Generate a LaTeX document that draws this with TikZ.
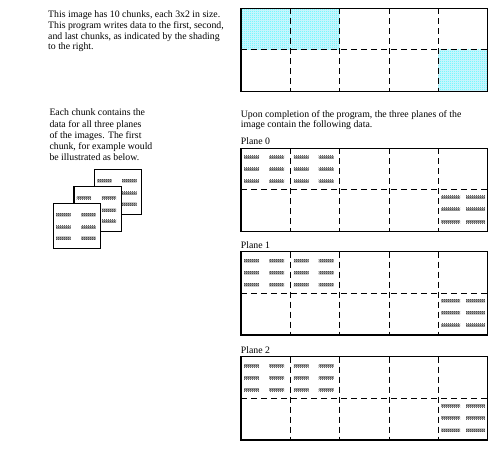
\documentclass[tikz,border=0pt]{standalone}
\usepackage{fontspec}
\setmainfont{Liberation Serif}
\usetikzlibrary{patterns}
\pgfdeclarepatternformonly{finecheck}{\pgfpointorigin}{\pgfqpoint{2pt}{2pt}}{\pgfqpoint{2pt}{2pt}}{%
  \pgfpathrectangle{\pgfpointorigin}{\pgfqpoint{1pt}{1pt}}%
  \pgfpathrectangle{\pgfqpoint{1pt}{1pt}}{\pgfqpoint{1pt}{1pt}}%
  \pgfusepath{fill}}
\tikzset{
  outerbox/.style={line width=1.2pt},
  griddash/.style={line width=0.9pt, dash pattern=on 6pt off 4pt},
  databar/.style={fill=black!30, postaction={pattern=finecheck, pattern color=black!85}},
  cyanshade/.style={fill=cyan!15, postaction={pattern=finecheck, pattern color=cyan!75}},
  platebox/.style={draw, fill=white, line width=1.1pt},
  txt/.style={anchor=base west, inner sep=0pt, font=\fontsize{9.8}{11}\selectfont},
}
\newcommand\chunkgrid[1]{%
  \draw[griddash] (241,#1+41.6) -- (487.7,#1+41.6);
  \foreach \gx in {290.3,339.7,389,438.3}{\draw[griddash] (\gx,#1) -- (\gx,#1+83.3);}
  \draw[outerbox] (241,#1) rectangle (487.7,#1+83.3);}
\newcommand\sixbars[4]{% x, y, bar width, first row offset
  \foreach \dy in {0,12,24}{
    \fill[databar] (#1+3,#2+#4+\dy) rectangle ++(#3,3);
    \fill[databar] (#1+28,#2+#4+\dy) rectangle ++(#3,3);}}
\newcommand\plate[2]{%
  \draw[platebox] (#1,#2) rectangle ++(47.5,45);
  \foreach \dy in {10.2,22.5,33.5}{
    \fill[databar] (#1+2.7,#2+\dy) rectangle ++(14.5,3);
    \fill[databar] (#1+27.7,#2+\dy) rectangle ++(14.5,3);}}
\begin{document}
\begin{tikzpicture}[x=1pt,y=-1pt]
\useasboundingbox (0,0) rectangle (503,454);
% top text
\node[txt] (t1a) at (48,17.7) {This image has 10 chunks, each 3x2 in size.};
\node[txt] (t1b) at (48,28.5) {This program writes data to the first, second,};
\node[txt] (t1c) at (48,39.3) {and last chunks, as indicated by the shading};
\node[txt] (t1d) at (48,50) {to the right.};
% top grid with shading
\fill[cyanshade] (241,8.3) rectangle (339.7,49.9);
\fill[cyanshade] (438.3,49.9) rectangle (487.7,91.6);
\chunkgrid{8.3}
% left text
\node[txt] (t2a) at (49.3,116) {Each chunk contains the};
\node[txt] (t2b) at (49.3,127.3) {data for all three planes};
\node[txt] (t2c) at (49.3,138.3) {of the images. The first};
\node[txt] (t2d) at (49.3,149.3) {chunk, for example would};
\node[txt] (t2e) at (49.3,160.3) {be illustrated as below.};
% plates
\plate{94.3}{169.3}
\plate{74}{186.3}
\plate{53.3}{203.3}
% right text
\node[txt] (t3a) at (240.7,117.3) {Upon completion of the program, the three planes of the};
\node[txt] (t3b) at (240.7,128) {image contain the following data.};
% planes
\foreach \ptop/\pname in {148.3/0,251.7/1,356.7/2}{
  \node[txt] (plane\pname) at (240.7,\ptop-3.5) {Plane \pname};
  \chunkgrid{\ptop}
  \sixbars{241}{\ptop}{15}{7.7}
  \sixbars{290.6}{\ptop}{15}{7.7}
  \foreach \dy in {5.8,17.8,30.2}{
    \fill[databar] (441,\ptop+41.6+\dy) rectangle ++(19,3);
    \fill[databar] (466,\ptop+41.6+\dy) rectangle ++(19,3);}
}
\end{tikzpicture}
\end{document}
